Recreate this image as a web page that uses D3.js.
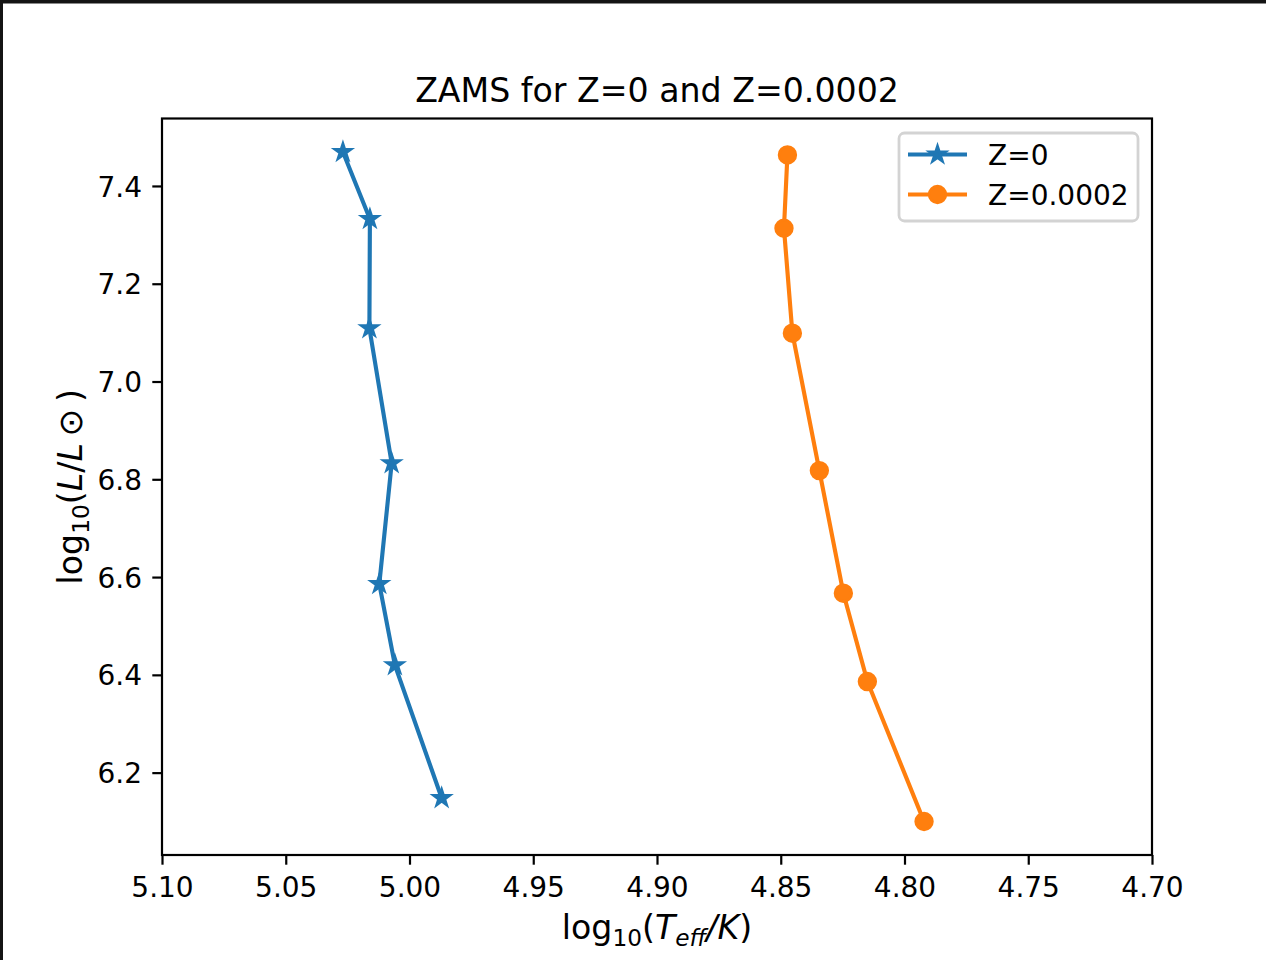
<!DOCTYPE html>
<html>
<head>
<meta charset="utf-8">
<script src="https://cdn.jsdelivr.net/npm/d3@7"></script>
<style>
  html, body { margin: 0; padding: 0; background: #ffffff; }
  svg { display: block; font-family: "DejaVu Sans", sans-serif; }
</style>
</head>
<body>
<svg id="chart" width="1266" height="960"></svg>
<script>
// ---- Data ----
const seriesNames = ["Z=0", "Z=0.0002"];
const teffZ0 = [5.0269, 5.0160, 5.0162, 5.0072, 5.0122, 5.0059, 4.9870];
const lumZ0  = [7.4695, 7.3325, 7.1090, 6.8330, 6.5860, 6.4200, 6.1480];
const teffZ2 = [4.8473, 4.8487, 4.8453, 4.8344, 4.8247, 4.8150, 4.7921];
const lumZ2  = [7.4634, 7.3135, 7.0988, 6.8178, 6.5670, 6.3863, 6.1000];
const xTicks = [5.10, 5.05, 5.00, 4.95, 4.90, 4.85, 4.80, 4.75, 4.70];
const yTicks = [6.2, 6.4, 6.6, 6.8, 7.0, 7.2, 7.4];
const titleText = "ZAMS for Z=0 and Z=0.0002";

const colors = ["#1f77b4", "#ff7f0e"];

(function () {
// ---- Layout ----
const W = 1266, H = 960;
const pL = 162, pR = 1152, pT = 118.5, pB = 855;
const svg = d3.select("#chart");

// dark frame edges of the screenshot
svg.append("rect").attr("x", 0).attr("y", 0).attr("width", W).attr("height", 3.5).attr("fill", "#141414");
svg.append("rect").attr("x", 0).attr("y", 0).attr("width", 3).attr("height", H).attr("fill", "#141414");

const x = d3.scaleLinear().domain([5.10, 4.70]).range([pL, pR]);
const allY = lumZ0.concat(lumZ2);
const yMin = d3.min(allY), yMax = d3.max(allY), yr = yMax - yMin;
const y = d3.scaleLinear().domain([yMin - 0.05 * yr, yMax + 0.05 * yr]).range([pB, pT]);

const fs = 28;
const lfs = 33.2;

// ---- Axes ----
const xAxis = d3.axisBottom(x).tickValues(xTicks).tickFormat(d3.format(".2f"))
  .tickSize(9.7).tickSizeOuter(0).tickPadding(12.5);
const gx = svg.append("g").attr("transform", `translate(0,${pB})`).call(xAxis);
gx.select(".domain").remove();
gx.selectAll(".tick line").attr("stroke", "#000").attr("stroke-width", 2.2);
gx.selectAll(".tick text").attr("font-size", fs).attr("font-family", "DejaVu Sans").attr("fill", "#000");

const yAxis = d3.axisLeft(y).tickValues(yTicks).tickFormat(d3.format(".1f"))
  .tickSize(9.7).tickSizeOuter(0).tickPadding(10.3);
const gy = svg.append("g").attr("transform", `translate(${pL},0)`).call(yAxis);
gy.select(".domain").remove();
gy.selectAll(".tick line").attr("stroke", "#000").attr("stroke-width", 2.2);
gy.selectAll(".tick text").attr("font-size", fs).attr("font-family", "DejaVu Sans").attr("fill", "#000").attr("dy", "0.36em");

// ---- Series ----
const series = [
  { name: seriesNames[0], xs: teffZ0, ys: lumZ0, color: colors[0], marker: "star" },
  { name: seriesNames[1], xs: teffZ2, ys: lumZ2, color: colors[1], marker: "circle" }
];
const line = d3.line().x(d => x(d[0])).y(d => y(d[1]));
const starPath = d3.symbol(d3.symbolStar, 77.3)();
const ms = 8.3; // marker radius

function drawMarker(g, kind, color, cx, cy) {
  if (kind === "star") {
    g.append("path").attr("d", starPath).attr("transform", `translate(${cx},${cy})`)
      .attr("fill", color).attr("stroke", color).attr("stroke-width", 2.77).attr("stroke-linejoin", "miter");
  } else {
    g.append("circle").attr("cx", cx).attr("cy", cy).attr("r", ms)
      .attr("fill", color).attr("stroke", color).attr("stroke-width", 2.77);
  }
}

series.forEach(s => {
  const pts = s.xs.map((v, i) => [v, s.ys[i]]);
  const g = svg.append("g");
  g.append("path").attr("d", line(pts)).attr("fill", "none").attr("stroke", s.color)
    .attr("stroke-width", 4.15).attr("stroke-linejoin", "round").attr("stroke-linecap", "square");
  pts.forEach(p => drawMarker(g, s.marker, s.color, x(p[0]), y(p[1])));
});

// ---- Spines ----
svg.append("rect").attr("x", pL).attr("y", pT).attr("width", pR - pL).attr("height", pB - pT)
  .attr("fill", "none").attr("stroke", "#000").attr("stroke-width", 2.2);

// ---- Title ----
svg.append("text").attr("x", (pL + pR) / 2).attr("y", 102).attr("text-anchor", "middle")
  .attr("font-size", 33.2).attr("fill", "#000").text(titleText);

// ---- X label: log10(Teff/K) ----
const sub = 7;
const xl = svg.append("text").attr("x", (pL + pR) / 2).attr("y", 939).attr("text-anchor", "middle")
  .attr("font-size", lfs).attr("fill", "#000");
xl.append("tspan").text("log");
xl.append("tspan").attr("font-size", lfs * 0.7).attr("dy", sub).text("10");
xl.append("tspan").attr("dy", -sub).text("(");
xl.append("tspan").attr("font-style", "italic").text("T");
xl.append("tspan").attr("font-style", "italic").attr("font-size", lfs * 0.7).attr("dy", sub).text("eff");
xl.append("tspan").attr("font-style", "italic").attr("dy", -sub).text("/K");
xl.append("tspan").text(")");

// ---- Y label: log10(L/L ⊙ ) ----
const yl = svg.append("text").attr("transform", `translate(82,${(pT + pB) / 2}) rotate(-90)`)
  .attr("text-anchor", "middle").attr("font-size", lfs).attr("fill", "#000");
yl.append("tspan").text("log");
yl.append("tspan").attr("font-size", lfs * 0.7).attr("dy", sub).text("10");
yl.append("tspan").attr("dy", -sub).text("(");
yl.append("tspan").attr("font-style", "italic").text("L");
yl.append("tspan").text("/");
yl.append("tspan").attr("font-style", "italic").text("L");
yl.append("tspan").text("\u2009\u2299\u2009)");

// ---- Legend ----
const lg = svg.append("g");
lg.append("rect").attr("x", 899).attr("y", 133).attr("width", 239).attr("height", 88).attr("rx", 5.5)
  .attr("fill", "#ffffff").attr("fill-opacity", 0.8).attr("stroke", "#d3d3d3").attr("stroke-width", 2.77);
const legendRows = [154.5, 194.5];
series.forEach((s, i) => {
  const cy = legendRows[i];
  lg.append("line").attr("x1", 908).attr("x2", 967).attr("y1", cy).attr("y2", cy)
    .attr("stroke", s.color).attr("stroke-width", 4.15);
  drawMarker(lg, s.marker, s.color, 937.5, cy);
  lg.append("text").attr("x", 988).attr("y", cy + 10.1).attr("font-size", fs).attr("fill", "#000").text(s.name);
});
})();
</script>
</body>
</html>
